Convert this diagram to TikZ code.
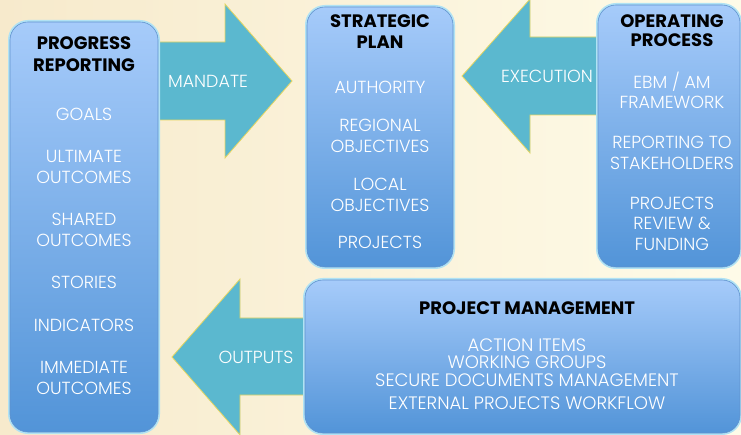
\documentclass[tikz,border=0pt]{standalone}
\usepackage{fontspec}
\setmainfont{Poppins}
\newfontfamily\thinfont{Poppins Light}
\usetikzlibrary{backgrounds}

\definecolor{boxtop}{RGB}{166,203,250}
\definecolor{boxbottom}{RGB}{82,148,216}
\definecolor{boxedge}{RGB}{96,146,206}
\definecolor{glow}{RGB}{176,226,244}
\definecolor{arrowfill}{RGB}{91,184,207}
\definecolor{arrowedge}{RGB}{230,214,96}
\definecolor{creamleft}{RGB}{247,234,204}
\definecolor{creamright}{RGB}{254,251,232}

\begin{document}
\begin{tikzpicture}[x=1pt, y=-1pt,
    panel/.style={draw=boxedge, line width=0.6pt, rounded corners=18pt,
      top color=boxtop, bottom color=boxbottom,
      preaction={draw=glow, line width=4pt}},
    heading/.style={inner sep=0pt, align=center, text=black,
      font=\bfseries\fontsize{18}{21.5}\selectfont},
    items/.style={inner sep=0pt, align=center, text=white,
      font=\thinfont\fontsize{17.5}{20.5}\selectfont},
    bigarrow/.style={fill=arrowfill, draw=arrowedge, line width=0.8pt}]
  \useasboundingbox (0,0) rectangle (741,435);
  \fill[left color=creamleft, right color=creamright] (0,0) rectangle (741,435);

  % Block arrows (behind the panels)
  \draw[bigarrow] (150,42) -- (225,42) -- (225,4) -- (292,81) -- (225,158) -- (225,120) -- (150,120) -- cycle;
  \draw[bigarrow] (605,37) -- (530,37) -- (530,-1) -- (462,76) -- (530,153) -- (530,115) -- (605,115) -- cycle;
  \draw[bigarrow] (312,318) -- (240,318) -- (240,279) -- (172,357) -- (240,435) -- (240,395) -- (312,395) -- cycle;

  % Panels
  \node[panel, minimum width=148pt, minimum height=410pt] (report) at (84,227) {};
  \node[panel, minimum width=146pt, minimum height=260pt] (plan) at (380,137) {};
  \node[panel, minimum width=142pt, minimum height=262pt] (operating) at (669,136) {};
  \node[panel, minimum width=435pt, minimum height=153pt] (management) at (522.5,356.5) {};

  % Headings
  \node[heading] (reporttitle) at (84,54) {PROGRESS\\REPORTING};
  \node[heading] (plantitle) at (380,31.5) {STRATEGIC\\PLAN};
  \node[heading, font=\bfseries\fontsize{18}{19.5}\selectfont] (operatingtitle) at (672,30.5) {OPERATING\\PROCESS};
  \node[heading] (managementtitle) at (527,308) {PROJECT MANAGEMENT};

  % Items
  \node[items] (reportitems) at (84,251) {GOALS\\[22pt]ULTIMATE\\OUTCOMES\\[22pt]SHARED\\OUTCOMES\\[22pt]STORIES\\[22pt]INDICATORS\\[22pt]IMMEDIATE\\OUTCOMES};
  \node[items] (planitems) at (380,165) {AUTHORITY\\[18pt]REGIONAL\\OBJECTIVES\\[18pt]LOCAL\\OBJECTIVES\\[17pt]PROJECTS};
  \node[items] (operatingitems) at (672,161) {EBM / AM\\FRAMEWORK\\[19.5pt]REPORTING TO\\STAKEHOLDERS\\[19.5pt]PROJECTS\\REVIEW \&\\FUNDING};
  \node[items, font=\thinfont\fontsize{18}{17.5}\selectfont] (managementitems) at (527,374) {ACTION ITEMS\\WORKING GROUPS\\SECURE DOCUMENTS MANAGEMENT\\[5.5pt]EXTERNAL PROJECTS WORKFLOW};

  % Arrow labels
  \node[items] (mandate) at (208,81) {MANDATE};
  \node[items] (execution) at (547,76) {EXECUTION};
  \node[items] (outputs) at (256,357) {OUTPUTS};
\end{tikzpicture}
\end{document}
